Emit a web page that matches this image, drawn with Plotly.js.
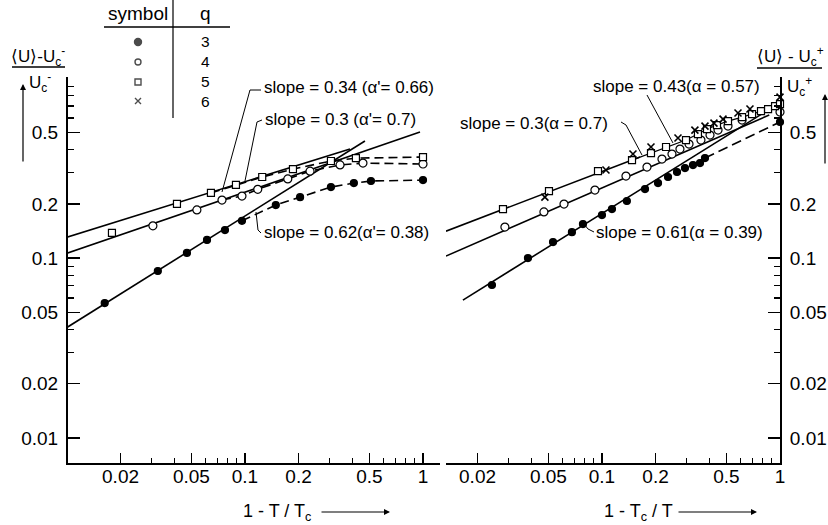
<!DOCTYPE html>
<html><head><meta charset="utf-8">
<script src="https://cdn.plot.ly/plotly-3.0.1.min.js"></script>
<style>body{margin:0;background:#fff}#c{width:828px;height:525px}</style>
</head><body><div id="c"></div><script>
// ---- Left panel: T < Tc, x = 1 - T/Tc ----
const leftQ3X = [0.0163,0.0324,0.0472,0.0612,0.0772,0.0962,0.149,0.204,0.304,0.409,0.510,1.0];
const leftQ3Y = [0.0562,0.0847,0.1067,0.126,0.143,0.161,0.197,0.218,0.248,0.261,0.268,0.271];
const leftQ4X = [0.0304,0.0537,0.0743,0.0962,0.118,0.174,0.232,0.342,0.460,1.0];
const leftQ4Y = [0.151,0.185,0.210,0.221,0.241,0.275,0.304,0.329,0.337,0.333];
const leftQ5X = [0.0179,0.0415,0.0644,0.089,0.125,0.186,0.304,0.420,1.0];
const leftQ5Y = [0.138,0.200,0.230,0.255,0.282,0.312,0.346,0.359,0.364];
// power-law fit lines (end points)
const leftFit3X = [0.0101,0.472],  leftFit3Y = [0.0414,0.447];
const leftFit4X = [0.0101,0.962],  leftFit4Y = [0.1067,0.501];
const leftFit5X = [0.0101,0.389],  leftFit5Y = [0.131,0.404];

// ---- Right panel: T > Tc, x = 1 - Tc/T ----
const rightQ3X = [0.0241,0.0384,0.0531,0.0678,0.0782,0.1,0.1138,0.138,0.1745,0.2065,0.235,0.264,0.2926,0.3245,0.3554,0.379,1.0];
const rightQ3Y = [0.0708,0.1,0.1227,0.1393,0.1545,0.1733,0.187,0.2074,0.2416,0.261,0.282,0.3006,0.316,0.3285,0.337,0.3594,0.570];
const rightQ4X = [0.0285,0.0472,0.0612,0.0913,0.1364,0.179,0.2173,0.2473,0.2742,0.3083,0.3597,0.4044,0.4487,0.5105,0.6124,1.0];
const rightQ4Y = [0.1486,0.1803,0.1995,0.2387,0.2855,0.3204,0.3548,0.3784,0.4033,0.4299,0.4525,0.482,0.514,0.541,0.5843,0.6473];
const rightQ5X = [0.0278,0.0504,0.095,0.1475,0.1885,0.229,0.2965,0.346,0.389,0.4426,0.5105,0.6124,0.6966,0.782,0.857,0.938,1.0];
const rightQ5Y = [0.1871,0.2355,0.3044,0.35,0.383,0.414,0.4525,0.4886,0.521,0.548,0.577,0.607,0.631,0.656,0.673,0.699,0.717];
const rightQ6X = [0.0478,0.1053,0.1493,0.1885,0.2673,0.3327,0.379,0.4256,0.4786,0.5808,0.678,1.0];
const rightQ6Y = [0.218,0.3083,0.3784,0.414,0.4645,0.514,0.541,0.5623,0.5916,0.6395,0.673,0.784];
const rightFit3X = [0.01656,0.857], rightFit3Y = [0.0584,0.664];
const rightFit4X = [0.0133,0.87],   rightFit4Y = [0.1026,0.623];
const rightFit5X = [0.0133,0.1635], rightFit5Y = [0.141,0.364];

// ---- ticks / labels ----
const yTickVals = [0.01,0.02,0.05,0.1,0.2,0.5];
const yTickText = ['0.01','0.02','0.05','0.1','0.2','0.5'];
const yMinor = [0.03,0.04,0.06,0.07,0.08,0.09,0.3,0.4,0.6,0.7,0.8,0.9];
const xTickVals = [0.02,0.05,0.1,0.2,0.5,1];
const xTickText = ['0.02','0.05','0.1','0.2','0.5','1'];
const xMinor = [0.03,0.04,0.06,0.07,0.08,0.09,0.3,0.4,0.6,0.7,0.8,0.9];
const legendQ = ['3','4','5','6'];
const legendSym = ['circle','circle-open','square-open','x-thin-open'];
const legendRow = [42,62,82,101];   // table row positions (layout, px)

const W = 828, H = 525;
const PX = x => x / W, PY = y => 1 - y / H;
const FONT = '"Liberation Sans", Arial, sans-serif';
const K = '#000';

function pts(x, y, sym, xa, ya, size, fill) {
  const isX = sym.indexOf('x') === 0;
  return {x, y, xaxis: xa, yaxis: ya, type: 'scatter', mode: 'markers', cliponaxis: false, showlegend: false,
    marker: {symbol: sym, size: size || 7, color: fill || K, line: {color: K, width: isX ? 1.6 : 1.2}}};
}
function line(x, y, xa, ya, dash, w) {
  return {x, y, xaxis: xa, yaxis: ya, type: 'scatter', mode: 'lines', showlegend: false,
    line: {color: K, width: w || 1.6, dash: dash || 'solid'}};
}
const data = [
  // left fits + connectors
  line(leftFit3X, leftFit3Y, 'x', 'y'),
  line(leftFit4X, leftFit4Y, 'x', 'y'),
  line(leftFit5X, leftFit5Y, 'x', 'y'),
  line(leftQ3X.slice(5), leftQ3Y.slice(5), 'x', 'y', '9px,5px'),
  line(leftQ4X.slice(2), leftQ4Y.slice(2), 'x', 'y', '9px,5px'),
  line(leftQ5X.slice(2), leftQ5Y.slice(2), 'x', 'y', '9px,5px'),
  pts(leftQ3X, leftQ3Y, 'circle', 'x', 'y', 7),
  pts(leftQ4X, leftQ4Y, 'circle', 'x', 'y', 8, '#fff'),
  pts(leftQ5X, leftQ5Y, 'square', 'x', 'y', 7, '#fff'),
  // right fits + connectors
  line(rightFit3X, rightFit3Y, 'x2', 'y2'),
  line(rightFit4X, rightFit4Y, 'x2', 'y2'),
  line(rightFit5X, rightFit5Y, 'x2', 'y2'),
  line(rightQ3X.slice(15), rightQ3Y.slice(15), 'x2', 'y2', '10px,5px'),
  line(rightQ5X.slice(3), rightQ5Y.slice(3), 'x2', 'y2', 'solid', 1.2),
  pts(rightQ3X, rightQ3Y, 'circle', 'x2', 'y2', 7),
  pts(rightQ4X, rightQ4Y, 'circle', 'x2', 'y2', 8, '#fff'),
  pts(rightQ5X, rightQ5Y, 'square', 'x2', 'y2', 7, '#fff'),
  pts(rightQ6X, rightQ6Y, 'x-thin-open', 'x2', 'y2', 7),
  // legend-table symbols, on a hidden pixel-scaled axis pair
  {x: legendSym.map(() => 138), y: legendRow, xaxis: 'x3', yaxis: 'y3', type: 'scatter', mode: 'markers',
   cliponaxis: false, showlegend: false,
   marker: {symbol: legendSym, size: [7, 6, 6, 6], color: K, line: {color: K, width: 1.4}}}
];

const yRange = [-2.139, 0.006];
const tf = {family: FONT, size: 19, color: K};
function yAxis(extra) {
  return Object.assign({type: 'log', range: yRange, domain: [PY(463), PY(77)], showgrid: false, zeroline: false,
    showline: true, linecolor: K, linewidth: 2, ticks: 'inside', ticklen: 12, tickwidth: 1.3, tickcolor: K,
    tickvals: yTickVals, ticktext: yTickText, ticklabelstandoff: 4, tickfont: tf,
    minor: {tickvals: yMinor, ticks: 'inside', ticklen: 6, tickwidth: 1.1, tickcolor: K, showgrid: false}}, extra);
}
function xAxis(extra) {
  return Object.assign({type: 'log', showgrid: false, zeroline: false,
    showline: true, linecolor: K, linewidth: 2, ticks: 'inside', ticklen: 10, tickwidth: 1.3, tickcolor: K,
    tickvals: xTickVals, ticktext: xTickText, ticklabelstandoff: -5, tickfont: tf,
    minor: {tickvals: xMinor, ticks: 'inside', ticklen: 5, tickwidth: 1.1, tickcolor: K, showgrid: false}}, extra);
}

const ann = [];
function txt(t, x, y, xanchor, size) {
  ann.push({text: t, x: PX(x), y: PY(y), xref: 'paper', yref: 'paper', xanchor: xanchor || 'left', yanchor: 'middle',
    showarrow: false, borderpad: 0, font: {family: FONT, size: size || 17, color: K}});
}
function arrow(x0, y0, x1, y1) {
  ann.push({text: '', x: PX(x1), y: PY(y1), ax: PX(x0), ay: PY(y0), xref: 'paper', yref: 'paper', axref: 'paper', ayref: 'paper',
    showarrow: true, arrowhead: 2, arrowsize: 1, arrowwidth: 1.2, arrowcolor: K});
}
// slope labels
txt("slope = 0.34 (α'= 0.66)", 263, 88);
txt("slope = 0.3 (α'= 0.7)", 264, 120);
txt("slope = 0.62(α'= 0.38)", 263, 232);
txt("slope = 0.43(α = 0.57)", 592, 86);
txt("slope = 0.3(α = 0.7)", 459, 123);
txt("slope = 0.61(α = 0.39)", 595, 232);
// axis titles
txt('1 - T / T<sub>c</sub>', 277, 512, 'center', 18);
arrow(320, 512, 390, 512);
txt('1 - T<sub>c</sub> / T', 638, 512, 'center', 18);
arrow(677, 512, 757, 512);
txt('⟨U⟩-U<sub>c</sub><sup>-</sup>', 38, 56, 'center', 17);
txt('U<sub>c</sub><sup>-</sup>', 40, 82, 'center', 17);
arrow(23, 163, 23, 84);
txt('⟨U⟩ - U<sub>c</sub><sup>+</sup>', 790, 56, 'center', 17);
txt('U<sub>c</sub><sup>+</sup>', 799, 86, 'center', 17);
arrow(825, 165, 825, 94);
// legend table
txt('symbol', 138, 13, 'center', 19);
txt('q', 205, 13, 'center', 19);
ann.push({text: legendQ.join('<br>'), x: PX(205), y: PY(72), xref: 'paper', yref: 'paper', xanchor: 'center',
  yanchor: 'middle', showarrow: false, borderpad: 0, font: {family: FONT, size: 15.5, color: K}});

const shapes = [];
function path(pairs, w) {
  const d = pairs.map((p, i) => (i ? 'L' : 'M') + PX(p[0]).toFixed(5) + ',' + PY(p[1]).toFixed(5)).join(' ');
  shapes.push({type: 'path', path: d, xref: 'paper', yref: 'paper', line: {color: K, width: w || 1}});
}
// leader lines
path([[261,90],[250,90],[222,192]]);
path([[262,120],[257,122],[245,181]]);
path([[261,233],[258,230],[256,212]]);
path([[647,95],[673,143]]);
path([[621,122],[626,125],[642,155]]);
path([[594,232],[588,229],[584,224]]);
// y-title fraction bars
path([[12,67],[65,67]], 1.5);
path([[757,68],[822,68]], 1.5);
// legend table rules
path([[104,27],[230,27]], 1.5);
path([[173,0],[173,118]], 1.2);

const layout = {
  width: W, height: H, margin: {l: 0, r: 0, t: 0, b: 0},
  paper_bgcolor: '#fff', plot_bgcolor: 'rgba(0,0,0,0)', showlegend: false,
  font: {family: FONT, color: K},
  xaxis: xAxis({domain: [PX(68), PX(440)], range: [-1.994, 0.0955], anchor: 'y'}),
  xaxis2: xAxis({domain: [PX(446), PX(780)], range: [-1.876, 0.0], anchor: 'y2'}),
  yaxis: yAxis({anchor: 'x', side: 'left'}),
  yaxis2: yAxis({anchor: 'x2', side: 'right'}),
  xaxis3: {domain: [PX(100), PX(240)], range: [100, 240], visible: false, anchor: 'y3', fixedrange: true},
  yaxis3: {domain: [PY(120), 1], range: [120, 0], visible: false, anchor: 'x3', fixedrange: true},
  annotations: ann, shapes: shapes
};
Plotly.newPlot('c', data, layout, {staticPlot: true});
</script></body></html>
